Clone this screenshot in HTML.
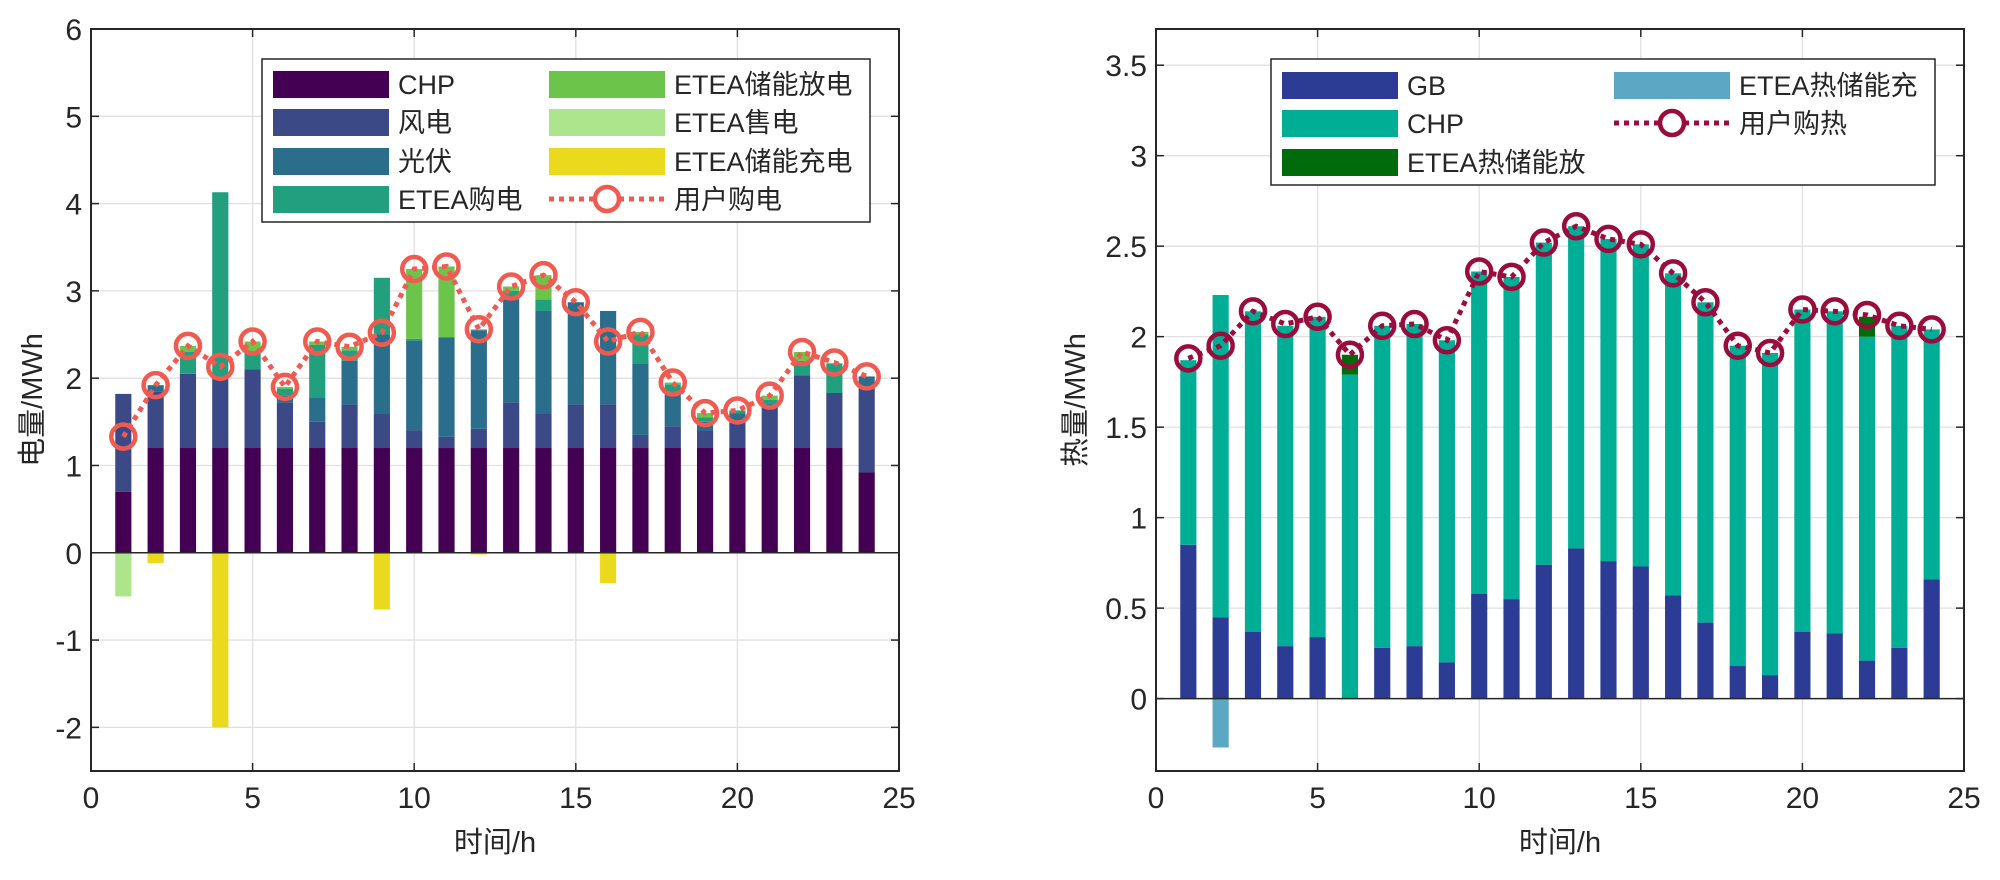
<!DOCTYPE html>
<html><head><meta charset="utf-8"><style>
html,body{margin:0;padding:0;background:#fff}
svg text{font-family:"Liberation Sans","Noto Sans CJK SC",sans-serif;fill:#262626}
</style></head><body>
<svg id="s" width="2000" height="875" viewBox="0 0 2000 875" xmlns="http://www.w3.org/2000/svg"></svg>
<script>
const hours=[1,2,3,4,5,6,7,8,9,10,11,12,13,14,15,16,17,18,19,20,21,22,23,24];
// Left chart (electricity)
const eCHP=[0.7,1.2,1.2,1.2,1.2,1.2,1.2,1.2,1.2,1.2,1.2,1.2,1.2,1.2,1.2,1.2,1.2,1.2,1.2,1.2,1.2,1.2,1.2,0.92];
const eWind=[1.12,0.65,0.85,0.8,0.9,0.52,0.3,0.5,0.4,0.2,0.13,0.22,0.52,0.4,0.5,0.5,0.15,0.25,0.2,0.3,0.5,0.83,0.63,0.98];
const ePV=[0,0.07,0,0,0,0.08,0.28,0.5,0.9,1.03,1.14,1.13,1.18,1.17,1.17,1.07,0.82,0.4,0.1,0.1,0,0,0,0.12];
const eBuy=[0,0,0.25,2.13,0.2,0.08,0.6,0.12,0.65,0.02,0,0,0.1,0.13,0,0,0.33,0.08,0.05,0.03,0.05,0.17,0.34,0];
const eDis=[0,0,0.07,0,0.12,0.02,0.04,0.04,0,0.8,0.81,0.01,0.05,0.28,0,0,0.03,0.02,0.05,0,0.05,0.1,0,0];
const eSell=[-0.5,0,0,0,0,0,0,0,0,0,0,0,0,0,0,0,0,0,0,0,0,0,0,0];
const eCharge=[0,-0.12,0,-2.0,0,0,0,0,-0.65,0,0,-0.02,0,0,0,-0.35,0,0,0,0,0,0,0,0];
const eDemand=[1.33,1.92,2.37,2.13,2.42,1.9,2.42,2.36,2.52,3.25,3.28,2.56,3.05,3.18,2.87,2.42,2.53,1.95,1.6,1.63,1.8,2.3,2.18,2.02];
const eYTicks=[-2,-1,0,1,2,3,4,5,6];
// Right chart (heat)
const hGB=[0.85,0.45,0.37,0.29,0.34,0,0.28,0.29,0.2,0.58,0.55,0.74,0.83,0.76,0.73,0.57,0.42,0.18,0.13,0.37,0.36,0.21,0.28,0.66];
const hCHP=[1.02,1.78,1.77,1.77,1.77,1.79,1.78,1.78,1.78,1.78,1.78,1.78,1.78,1.78,1.78,1.78,1.77,1.77,1.78,1.78,1.78,1.79,1.78,1.38];
const hDis=[0,0,0,0,0,0.11,0,0,0,0,0,0,0,0,0,0,0,0,0,0,0,0.11,0,0];
const hCharge=[0,-0.27,0,0,0,0,0,0,0,0,0,0,0,0,0,0,0,0,0,0,0,0,0,0];
const hDemand=[1.88,1.95,2.14,2.07,2.11,1.9,2.06,2.07,1.98,2.36,2.33,2.52,2.61,2.54,2.51,2.35,2.19,1.95,1.91,2.15,2.14,2.12,2.06,2.04];
const hYTicks=[0,0.5,1,1.5,2,2.5,3,3.5];
const xTicks=[0,5,10,15,20,25];

const NS="http://www.w3.org/2000/svg";
const svg=document.getElementById('s');
function el(tag,attrs,parent,text){const e=document.createElementNS(NS,tag);for(const k in attrs)e.setAttribute(k,attrs[k]);if(text!==undefined)e.textContent=text;(parent||svg).appendChild(e);return e;}

function chart(cfg){
  const g=el('g',{});
  
  
  const L=cfg.L,R=cfg.R,T=29,B=771;
  const X=v=>L+(v-0)/(25-0)*(R-L);
  const Y=v=>B-(v-cfg.ymin)/(cfg.ymax-cfg.ymin)*(B-T);
  xTicks.forEach(t=>{if(t>0&&t<25){const l=el('line',{x1:X(t),x2:X(t),y1:T,y2:B,stroke:'#e0e0e0','stroke-width':1.3},g);}});
  cfg.yt.forEach(t=>{const l=el('line',{x1:L,x2:R,y1:Y(t),y2:Y(t),stroke:'#e0e0e0','stroke-width':1.3},g);});
  const bw=0.5*(R-L)/25;
  hours.forEach((h,i)=>{
    let pos=0,neg=0;
    cfg.pos.forEach(s=>{const v=s.data[i];if(v>0){const r=el('rect',{x:X(h)-bw/2,y:Y(pos+v),width:bw,height:Y(pos)-Y(pos+v),fill:s.color},g);pos+=v;}});
    cfg.neg.forEach(s=>{const v=s.data[i];if(v<0){const r=el('rect',{x:X(h)-bw/2,y:Y(neg),width:bw,height:Y(neg+v)-Y(neg),fill:s.color},g);neg+=v;}});
  });
  const z=el('line',{x1:L,x2:R,y1:Y(0),y2:Y(0),stroke:'#262626','stroke-width':1.5},g);
  
  const pts=hours.map((h,i)=>X(h)+','+Y(cfg.dem[i])).join(' ');
  const pl=el('polyline',{points:pts,fill:'none',stroke:cfg.dc,'stroke-width':5,'stroke-dasharray':'5 5'},g);
  
  hours.forEach((h,i)=>{const c=el('circle',{cx:X(h),cy:Y(cfg.dem[i]),r:12,fill:'none',stroke:cfg.dc,'stroke-width':4.5},g);});
  const bx=el('rect',{x:L,y:T,width:R-L,height:B-T,fill:'none',stroke:'#262626','stroke-width':2},g);
  
  xTicks.forEach(t=>{
    el('line',{x1:X(t),x2:X(t),y1:B,y2:B-8,stroke:'#262626','stroke-width':1.5},g);
    el('line',{x1:X(t),x2:X(t),y1:T,y2:T+8,stroke:'#262626','stroke-width':1.5},g);
    const tx=el('text',{x:X(t),y:B+37,'font-size':30,'text-anchor':'middle'},g,String(t));
    
  });
  cfg.yt.forEach(t=>{
    el('line',{x1:L,x2:L+8,y1:Y(t),y2:Y(t),stroke:'#262626','stroke-width':1.5},g);
    el('line',{x1:R,x2:R-8,y1:Y(t),y2:Y(t),stroke:'#262626','stroke-width':1.5},g);
    const tx=el('text',{x:L-9,y:Y(t)+11,'font-size':30,'text-anchor':'end'},g,String(t));
    
  });
  const xl=el('text',{x:(L+R)/2,y:852,'font-size':29,'text-anchor':'middle'},g,'时间/h');
  
  const yx=cfg.ylx, yy=(T+B)/2;
  const yl=el('text',{x:yx,y:yy,'font-size':29,'text-anchor':'middle',transform:'rotate(-90 '+yx+' '+yy+')'},g,cfg.ylabel);
  
  const lg=el('g',{},g);
  
  const lb=cfg.leg;
  el('rect',{x:lb.x,y:lb.y,width:lb.w,height:lb.h,fill:'#fff',stroke:'#262626','stroke-width':1.5},lg);
  lb.items.forEach(it=>{
    const eg=el('g',{},lg);
    
    if(it.line){
      el('line',{x1:it.sx,x2:it.sx+116,y1:it.y,y2:it.y,stroke:it.color,'stroke-width':5,'stroke-dasharray':'5 5'},eg);
      el('circle',{cx:it.sx+58,cy:it.y,r:12,fill:'#fff',stroke:it.color,'stroke-width':4.5},eg);
    } else el('rect',{x:it.sx,y:it.y-13,width:116,height:27,fill:it.color},eg);
    el('text',{x:it.sx+125,y:it.y+10,'font-size':27},eg,it.label);
  });
}

chart({name:'electricity-chart',L:91,R:899,ymin:-2.5,ymax:6,yt:eYTicks,ylabel:'电量/MWh',ylx:42,dc:'#f05a50',dem:eDemand,
 pos:[{key:'chp',data:eCHP,color:'#440154'},{key:'wind',data:eWind,color:'#3b4a87'},{key:'pv',data:ePV,color:'#2a6e8c'},{key:'etea-buy',data:eBuy,color:'#22a07e'},{key:'etea-discharge',data:eDis,color:'#6cc54a'}],
 neg:[{key:'etea-sell',data:eSell,color:'#ade58c'},{key:'etea-charge',data:eCharge,color:'#ebd91e'}],
 leg:{x:262,y:59,w:608,h:163,items:[
  {sx:273,y:84,color:'#440154',label:'CHP'},{sx:273,y:122,color:'#3b4a87',label:'风电'},{sx:273,y:161,color:'#2a6e8c',label:'光伏'},{sx:273,y:199,color:'#22a07e',label:'ETEA购电'},
  {sx:549,y:84,color:'#6cc54a',label:'ETEA储能放电'},{sx:549,y:122,color:'#ade58c',label:'ETEA售电'},{sx:549,y:161,color:'#ebd91e',label:'ETEA储能充电'},{sx:549,y:199,color:'#f05a50',label:'用户购电',line:true}]}});

chart({name:'heat-chart',L:1156,R:1964,ymin:-0.4,ymax:3.7,yt:hYTicks,ylabel:'热量/MWh',ylx:1085,dc:'#9a0c3c',dem:hDemand,
 pos:[{key:'gb',data:hGB,color:'#2c3b94'},{key:'chp',data:hCHP,color:'#00ae95'},{key:'etea-heat-discharge',data:hDis,color:'#006b0a'}],
 neg:[{key:'etea-heat-charge',data:hCharge,color:'#5aa8c3'}],
 leg:{x:1271,y:59,w:664,h:126,items:[
  {sx:1282,y:85,color:'#2c3b94',label:'GB'},{sx:1282,y:123,color:'#00ae95',label:'CHP'},{sx:1282,y:162,color:'#006b0a',label:'ETEA热储能放'},
  {sx:1614,y:85,color:'#5aa8c3',label:'ETEA热储能充'},{sx:1614,y:123,color:'#9a0c3c',label:'用户购热',line:true}]}});
</script>
</body></html>
